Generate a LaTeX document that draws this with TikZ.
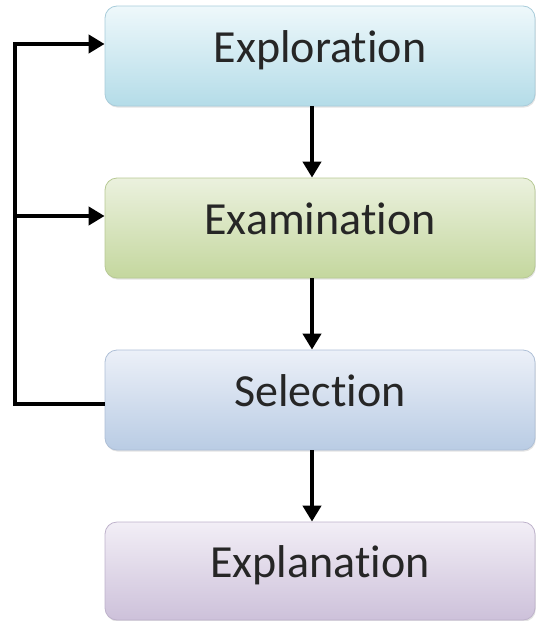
\documentclass[tikz,border=0pt]{standalone}
\usepackage{fontspec}
\setmainfont[Ligatures={NoCommon,NoContextual}]{Carlito}
\usetikzlibrary{arrows.meta,shadows}

\definecolor{explTop}{HTML}{EEF8FB}
\definecolor{explBot}{HTML}{B4DCE8}
\definecolor{explLine}{HTML}{A8CCDA}
\definecolor{examTop}{HTML}{EBF1DE}
\definecolor{examBot}{HTML}{C4D79E}
\definecolor{examLine}{HTML}{B7C994}
\definecolor{selTop}{HTML}{ECF0F8}
\definecolor{selBot}{HTML}{B9CCE4}
\definecolor{selLine}{HTML}{AEBFD6}
\definecolor{explnTop}{HTML}{F2EEF6}
\definecolor{explnBot}{HTML}{CDC1DA}
\definecolor{explnLine}{HTML}{BEB2CB}

\tikzset{
  stagebox/.style={
    rounded corners=12pt, minimum width=430pt, minimum height=100pt,
    line width=0.8pt, inner sep=0pt,
    text height=20pt, text depth=8pt,
    font=\fontsize{46}{55}\selectfont, text=black!85,
    drop shadow={opacity=0.22, shadow xshift=0.8pt, shadow yshift=-1.6pt}
  },
  tip/.style={-{Triangle[length=16pt,width=18pt]}},
  flow/.style={line width=4pt, tip},
  loopline/.style={line width=4pt, line join=miter}
}

\begin{document}
\begin{tikzpicture}[x=1pt,y=-1pt]
  \useasboundingbox (0,0) rectangle (537,621);

  % the four stages, top to bottom
  \node[stagebox, top color=explTop, bottom color=explBot, draw=explLine]
    (expl) at (320,56) {Exploration};
  \node[stagebox, top color=examTop, bottom color=examBot, draw=examLine]
    (exam) at (320,228) {Examination};
  \node[stagebox, top color=selTop, bottom color=selBot, draw=selLine]
    (sel) at (320,400) {Selection};
  \node[stagebox, minimum height=98pt, top color=explnTop, bottom color=explnBot, draw=explnLine]
    (expln) at (320,571) {Explanation};

  % forward flow
  \draw[flow] ([xshift=-8pt]expl.south) -- ([xshift=-8pt]exam.north);
  \draw[flow] ([xshift=-8pt]exam.south) -- ([xshift=-8pt]sel.north);
  \draw[flow] ([xshift=-8pt]sel.south) -- ([xshift=-8pt]expln.north);

  % feedback loop from Selection back to the earlier stages
  \coordinate (loopbot) at (15,404);
  \coordinate (loopmid) at (15,216);
  \coordinate (looptop) at (15,44);
  \draw[loopline, tip]
    (sel.west |- loopbot) -- (loopbot) -- (looptop) -- (expl.west |- looptop);
  \draw[flow] (loopmid) -- (exam.west |- loopmid);
\end{tikzpicture}
\end{document}
